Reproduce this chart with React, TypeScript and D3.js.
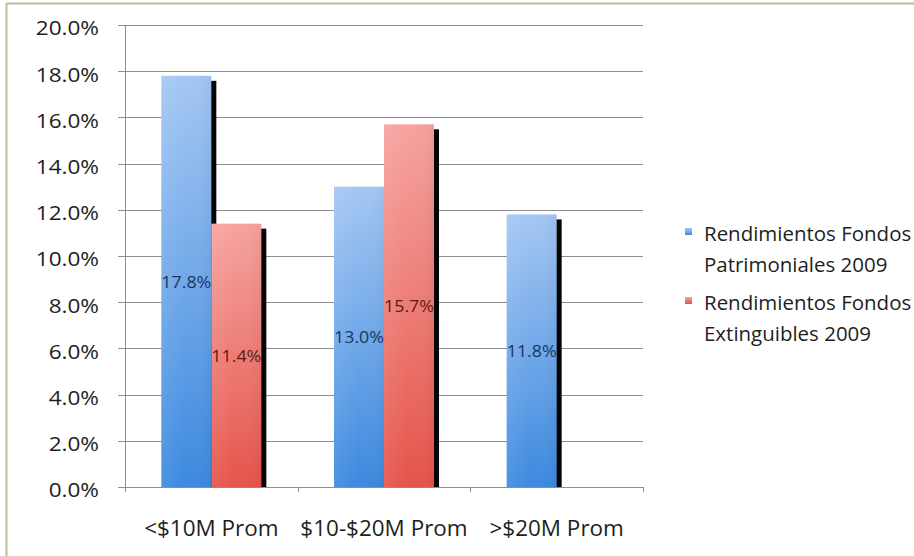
import React from "react";
import * as d3 from "d3";

const categories = ["<$10M Prom", "$10-$20M Prom", ">$20M Prom"];
const seriesNames = ["Rendimientos Fondos Patrimoniales 2009", "Rendimientos Fondos Extinguibles 2009"];
const legendLines = [
  ["Rendimientos Fondos", "Patrimoniales 2009"],
  ["Rendimientos Fondos", "Extinguibles 2009"],
];
const patrimoniales: (number | null)[] = [17.8, 13.0, 11.8];
const extinguibles: (number | null)[] = [11.4, 15.7, null];
const yTicks = [0, 2, 4, 6, 8, 10, 12, 14, 16, 18, 20];

const W = 914;
const H = 556;
const FONT = "'Open Sans', Lato, sans-serif";

const plot = { left: 125, right: 643, top: 25, bottom: 487 };

const fills = [
  { top: "#a4c7f3", bottom: "#3c89df", label: "#1c3560" },
  { top: "#f6a3a0", bottom: "#e5544a", label: "#5e1b12" },
];

// text placed at (x, y) and stretched horizontally around its anchor
function Label(props: {
  x: number;
  y: number;
  sx: number;
  size: number;
  anchor?: "start" | "middle" | "end";
  fill?: string;
  middle?: boolean;
  children: React.ReactNode;
}) {
  const { x, y, sx, size, anchor = "start", fill = "#1e1e1e", middle, children } = props;
  return (
    <text
      transform={`translate(${x},${y}) scale(${sx},1)`}
      textAnchor={anchor}
      dominantBaseline={middle ? "middle" : undefined}
      fontFamily={FONT}
      fontSize={size}
      fill={fill}
    >
      {children}
    </text>
  );
}

export default function App() {
  const x0 = d3.scaleBand<string>().domain(categories).range([plot.left, plot.right]).padding(0);
  const groupW = 100;
  const x1 = d3
    .scaleBand<number>()
    .domain([0, 1])
    .range([(x0.bandwidth() - groupW) / 2, (x0.bandwidth() + groupW) / 2])
    .padding(0);
  const y = d3.scaleLinear().domain([0, 20]).range([plot.bottom, plot.top]);
  const series = [patrimoniales, extinguibles];

  const bars = series.flatMap((vals, si) =>
    vals
      .map((v, ci) => ({ v, ci, si }))
      .filter((d) => d.v !== null)
      .map((d) => ({
        ...d,
        x: (x0(categories[d.ci]) as number) + (x1(d.si) as number),
        w: x1.bandwidth(),
        y: y(d.v as number),
        h: plot.bottom - y(d.v as number),
      }))
  );

  return (
    <div style={{ position: "absolute", left: 0, top: 0 }}>
      <svg width={W} height={H} style={{ display: "block", background: "#fff" }}>
        <defs>
          {fills.map((f, i) => (
            <linearGradient key={i} id={`grad${i}`} x1="0" y1="0" x2="0" y2="1">
              <stop offset="0%" stopColor={f.top} />
              <stop offset="100%" stopColor={f.bottom} />
            </linearGradient>
          ))}
          {fills.map((f, i) => (
            <linearGradient key={`h${i}`} id={`hgrad${i}`} x1="0" y1="0" x2="1" y2="0">
              <stop offset="0%" stopColor="#fff" stopOpacity={0.08} />
              <stop offset="50%" stopColor="#fff" stopOpacity={0.0} />
              <stop offset="100%" stopColor="#000" stopOpacity={0.04} />
            </linearGradient>
          ))}
          <clipPath id="plotClip">
            <rect x={plot.left} y={0} width={W - plot.left} height={plot.bottom} />
          </clipPath>
        </defs>

        {/* frame */}
        <line x1={6.5} x2={6.5} y1={3} y2={H} stroke="#b3c296" strokeWidth={2} />
        <line x1={6} x2={W} y1={3.5} y2={3.5} stroke="#b3c296" strokeWidth={2} />

        {/* gridlines and y ticks */}
        {yTicks.map((t) => (
          <g key={t}>
            <line
              x1={plot.left - 7}
              x2={plot.right}
              y1={Math.round(y(t)) + 0.5}
              y2={Math.round(y(t)) + 0.5}
              stroke="#8e8e8e"
              strokeWidth={1}
            />
            <Label x={99} y={y(t) + 5} sx={1.1} size={20.5} anchor="end" middle>
              {t.toFixed(1)}%
            </Label>
          </g>
        ))}

        {/* y axis line */}
        <line x1={plot.left + 0.5} x2={plot.left + 0.5} y1={plot.top} y2={plot.bottom + 5} stroke="#8e8e8e" />
        {/* category ticks */}
        {categories.map((c, i) => {
          const xt = Math.round((x0(c) as number) + x0.bandwidth()) + 0.5;
          return <line key={i} x1={xt} x2={xt} y1={plot.bottom} y2={plot.bottom + 5} stroke="#8e8e8e" />;
        })}

        {/* shadows */}
        <g clipPath="url(#plotClip)">
          {bars.map((b, i) => (
            <rect key={i} x={b.x + 5} y={b.y + 5} width={b.w} height={b.h} fill="#050505" />
          ))}
        </g>

        {/* bars */}
        {bars.map((b, i) => (
          <g key={i}>
            <rect x={b.x} y={b.y} width={b.w} height={b.h} fill={`url(#grad${b.si})`} />
            <rect x={b.x} y={b.y} width={b.w} height={b.h} fill={`url(#hgrad${b.si})`} />
          </g>
        ))}

        {/* value labels */}
        {bars.map((b, i) => (
          <Label
            key={i}
            x={b.x + b.w / 2}
            y={b.y + b.h / 2 + 2}
            sx={1.08}
            size={16.5}
            anchor="middle"
            middle
            fill={fills[b.si].label}
          >
            {(b.v as number).toFixed(1)}%
          </Label>
        ))}

        {/* category labels */}
        {categories.map((c) => (
          <Label
            key={c}
            x={(x0(c) as number) + x0.bandwidth() / 2}
            y={530}
            sx={1.07}
            size={21}
            anchor="middle"
            middle
          >
            {c}
          </Label>
        ))}

        {/* legend */}
        {seriesNames.map((name, i) => (
          <g key={name} transform={`translate(685, ${228 + i * 69})`}>
            <rect x={0} y={0} width={7} height={7} fill={`url(#grad${i})`} />
            {legendLines[i].map((ln, j) => (
              <Label key={j} x={19} y={13 + j * 31} sx={1.05} size={19.5}>
                {ln}
              </Label>
            ))}
          </g>
        ))}
      </svg>
    </div>
  );
}
